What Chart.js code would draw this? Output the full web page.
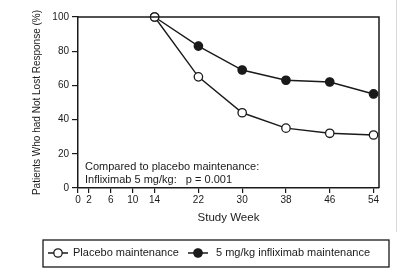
<!DOCTYPE html>
<html><head><meta charset="utf-8">
<script src="https://cdn.jsdelivr.net/npm/chart.js@4/dist/chart.umd.min.js"></script>
<style>html,body{margin:0;padding:0;background:#fff}#wrap{width:400px;height:270px;position:relative}</style>
</head><body><div id="wrap"><canvas id="c" width="400" height="270"></canvas></div>
<script>
const weeks = [14, 22, 30, 38, 46, 54];
const placebo = [100, 65, 44, 35, 32, 31];
const infliximab = [100, 83, 69, 63, 62, 55];
const xTicks = [0, 2, 6, 10, 14, 22, 30, 38, 46, 54];
const yTicks = [0, 20, 40, 60, 80, 100];
const seriesNames = ['Placebo maintenance', '5 mg/kg infliximab maintenance'];
const noteLines = ['Compared to placebo maintenance:', 'Infliximab 5 mg/kg:   p = 0.001'];
const xTitle = 'Study Week';
const yTitle = 'Patients Who had Not Lost Response (%)';

const FONT = "'Liberation Sans', Arial, sans-serif";
const INK = '#1a1a1a';

const extras = {
  id: 'extras',
  afterDraw(chart) {
    const ctx = chart.ctx, a = chart.chartArea;
    ctx.save();
    // top and right frame
    ctx.strokeStyle = INK; ctx.lineWidth = 1.5;
    ctx.beginPath();
    ctx.moveTo(a.left, a.top); ctx.lineTo(a.right, a.top); ctx.lineTo(a.right, a.bottom);
    ctx.stroke();
    // note
    ctx.fillStyle = INK; ctx.font = '11px ' + FONT; ctx.textBaseline = 'middle'; ctx.textAlign = 'left';
    ctx.fillText(noteLines[0], 85, 167);
    ctx.fillText(noteLines[1], 85, 180);
    // faint edge line
    ctx.strokeStyle = '#d8d8d8'; ctx.lineWidth = 1;
    ctx.beginPath(); ctx.moveTo(396.5, 0); ctx.lineTo(396.5, 232); ctx.stroke();
    // legend box
    ctx.strokeStyle = INK; ctx.lineWidth = 1.3;
    ctx.strokeRect(43, 240, 346, 27);
    const cy = 253;
    const items = [{cx: 58, tx: 73, fill: '#fff'}, {cx: 198, tx: 216, fill: INK}];
    items.forEach((it, i) => {
      ctx.strokeStyle = INK; ctx.lineWidth = 1.5;
      ctx.beginPath(); ctx.moveTo(it.cx - 10, cy); ctx.lineTo(it.cx + 10, cy); ctx.stroke();
      ctx.beginPath(); ctx.arc(it.cx, cy, 4.2, 0, Math.PI * 2);
      ctx.fillStyle = it.fill; ctx.fill(); ctx.lineWidth = 1.3; ctx.stroke();
      ctx.fillStyle = INK; ctx.font = '11px ' + FONT; ctx.textBaseline = 'middle';
      ctx.fillText(seriesNames[i], it.tx, cy);
    });
    ctx.restore();
  }
};

new Chart(document.getElementById('c'), {
  type: 'line',
  data: {
    datasets: [
      {
        label: seriesNames[0],
        data: weeks.map((w, i) => ({x: w, y: placebo[i]})),
        borderColor: INK, borderWidth: 1.4,
        pointBackgroundColor: '#fff', pointBorderColor: INK, pointBorderWidth: 1.3,
        pointRadius: 4.2, tension: 0, clip: false
      },
      {
        label: seriesNames[1],
        data: weeks.map((w, i) => ({x: w, y: infliximab[i]})),
        borderColor: INK, borderWidth: 1.4,
        pointBackgroundColor: INK, pointBorderColor: INK, pointBorderWidth: 1.3,
        pointRadius: 4.2, tension: 0, clip: false
      }
    ]
  },
  options: {
    responsive: false, animation: false, devicePixelRatio: 1,
    layout: {padding: {left: 0, top: 17, right: 21, bottom: 42}},
    plugins: {legend: {display: false}, tooltip: {enabled: false}},
    scales: {
      x: {
        type: 'linear', min: 0, max: 55,
        afterBuildTicks: s => { s.ticks = xTicks.map(v => ({value: v})); },
        afterFit: s => { s.height = 40; },
        border: {display: true, color: INK, width: 1.5},
        grid: {drawOnChartArea: false, drawTicks: true, tickLength: 5, color: INK, lineWidth: 1.2},
        ticks: {color: INK, font: {family: FONT, size: 10}, padding: 1, maxRotation: 0, autoSkip: false},
        title: {display: true, text: xTitle, color: INK, font: {family: FONT, size: 11.5}, padding: {top: 0, bottom: 3}}
      },
      y: {
        min: 0, max: 100,
        afterBuildTicks: s => { s.ticks = yTicks.map(v => ({value: v})); },
        afterFit: s => { s.width = 78; },
        border: {display: true, color: INK, width: 1.5},
        grid: {drawOnChartArea: false, drawTicks: true, tickLength: 6, color: INK, lineWidth: 1.2},
        ticks: {color: INK, font: {family: FONT, size: 10}, padding: 3},
        title: {display: true, text: yTitle, color: INK, font: {family: FONT, size: 10}, padding: {top: 31, bottom: 0}}
      }
    }
  },
  plugins: [extras]
});
</script></body></html>
